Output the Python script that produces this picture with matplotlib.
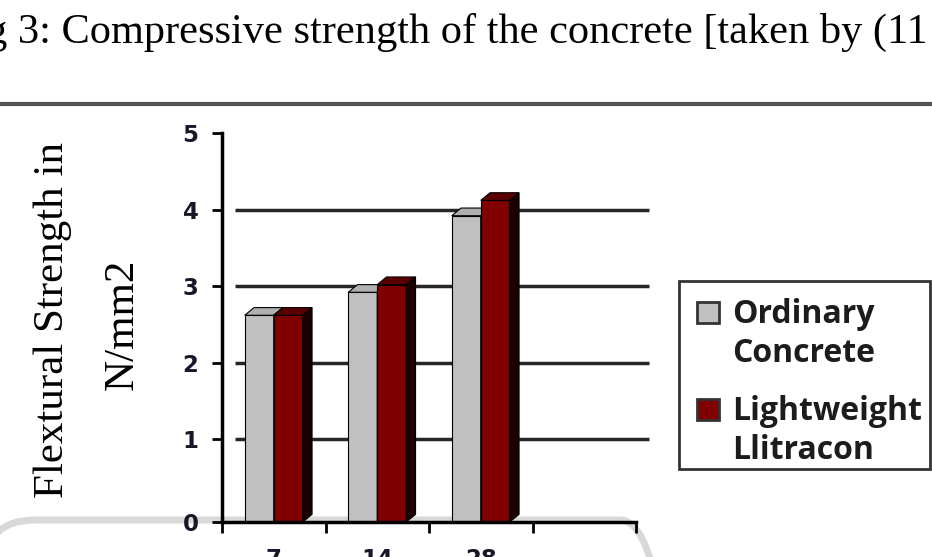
import matplotlib.pyplot as plt
from matplotlib.patches import Polygon, Rectangle, FancyBboxPatch
from matplotlib.lines import Line2D

# curing age (days) and flexural strength (N/mm2)
ages = ['7', '14', '28']
ordinary = [2.7, 3.0, 4.0]
llitracon = [2.7, 3.1, 4.2]
series_names = ['Ordinary\nConcrete', 'Lightweight\nLlitracon']
yticks = [0, 1, 2, 3, 4, 5]

caption = 'g 3: Compressive strength of the concrete [taken by (11'
ylabel_1 = 'Flextural Strength in'
ylabel_2 = 'N/mm2'

# colours of the 3-D columns (front, top, side)
gray = ('#c0c0c0', '#b0b0b0', '#808080')
red = ('#800000', '#5a0000', '#1c0000')

W, H = 932, 557
fig = plt.figure(figsize=(W / 100, H / 100), dpi=100)
fig.patch.set_facecolor('white')


def px(x, y):
    # pixel position (from top-left) -> figure fraction
    return x / W, 1 - y / H


# rounded grey frame from the screenshot behind the chart
fig.add_artist(FancyBboxPatch((-0.15, -3), 6.85, 3 + 0.37,
                              boxstyle='round,pad=0,rounding_size=0.5',
                              transform=fig.dpi_scale_trans, fc='none',
                              ec='#d8d8d8', lw=5, zorder=0))

ax = fig.add_axes([222 / W, 35 / H, 414 / W, 389 / H])
ax.set_facecolor('none')

dx, dy = 0.09, 0.10      # depth of the columns (data units)
gdx, gdy = 0.125, 0.08   # back wall offset
w = 0.28


def column(x, h, cols, z):
    front, top, side = cols
    ax.bar(x, h, w, color=front, edgecolor='black', lw=0.8, zorder=z)
    l, r = x - w / 2, x + w / 2
    ax.add_patch(Polygon([(l, h), (l + dx, h + dy), (r + dx, h + dy), (r, h)],
                         fc=top, ec='black', lw=0.8, zorder=z))
    ax.add_patch(Polygon([(r, 0), (r + dx, dy), (r + dx, h + dy), (r, h)],
                         fc=side, ec='black', lw=0.8, zorder=z))


for i in range(len(ages)):
    column(i - w / 2, ordinary[i], gray, 3 + 2 * i)
    column(i + w / 2, llitracon[i], red, 4 + 2 * i)

# gridlines on the back wall
ax.hlines([v + gdy for v in yticks[1:-1]], -0.5 + gdx, 3.5 + gdx,
          colors='#262626', lw=2.5, zorder=1, clip_on=False)

ax.set_xlim(-0.5, 3.5)
ax.set_ylim(0, 5 + gdy)
for s in ['top', 'right']:
    ax.spines[s].set_visible(False)
for s in ['left', 'bottom']:
    ax.spines[s].set_linewidth(2.5)
    ax.spines[s].set_zorder(20)

tick_font = dict(family='DejaVu Sans', weight='bold', size=16.5)
ax.set_yticks([0] + [v + gdy for v in yticks[1:]])
ax.set_yticklabels([str(v) for v in yticks], color='#17172a', **tick_font)
ax.tick_params(axis='y', length=7, width=2, pad=10)

ax.set_xticks(range(len(ages)))
ax.set_xticklabels(ages, color='#17172a', **tick_font)
ax.set_xticks([-0.5, 0.5, 1.5, 2.5, 3.5], minor=True)
ax.tick_params(axis='x', which='major', length=0, pad=19)
ax.tick_params(axis='x', which='minor', length=8, width=2)

# legend box (square beside the first line of each name)
x0, y0 = px(679, 469)
x1, y1 = px(930, 281)
fig.add_artist(Rectangle((x0, y0), x1 - x0, y1 - y0, transform=fig.transFigure,
                         fc='white', ec='#333333', lw=2, zorder=5))
legend_font = dict(family='Open Sans', weight='bold', size=23, color='#1c1c1c')
for k, (name, cols) in enumerate(zip(series_names, [gray, red])):
    base = 323 + 97 * k
    sx, sy = px(697, base)
    ex, ey = px(719, base - 21)
    fig.add_artist(Rectangle((sx, sy), ex - sx, ey - sy, transform=fig.transFigure,
                             fc=cols[0], ec='#333333', lw=2, zorder=6))
    for j, line in enumerate(name.split('\n')):
        fig.text(*px(732, base + 39 * j), line, va='baseline', ha='left',
                 zorder=6, **legend_font)

# caption and rule of the page
fig.text(-0.015, 1 - 43 / H, caption, family='Liberation Serif', size=30.5,
         va='baseline', ha='left')
fig.add_artist(Line2D([0, 1], [1 - 104 / H] * 2, transform=fig.transFigure,
                      color='#555555', lw=3))

# y-axis title
fig.text(*px(63, 320), ylabel_1, family='Liberation Serif', size=31,
         rotation=90, rotation_mode='anchor', ha='center', va='baseline')
fig.text(*px(133, 324), ylabel_2, family='Liberation Serif', size=31,
         rotation=90, rotation_mode='anchor', ha='center', va='baseline')

fig.savefig('out.png', dpi=100)
